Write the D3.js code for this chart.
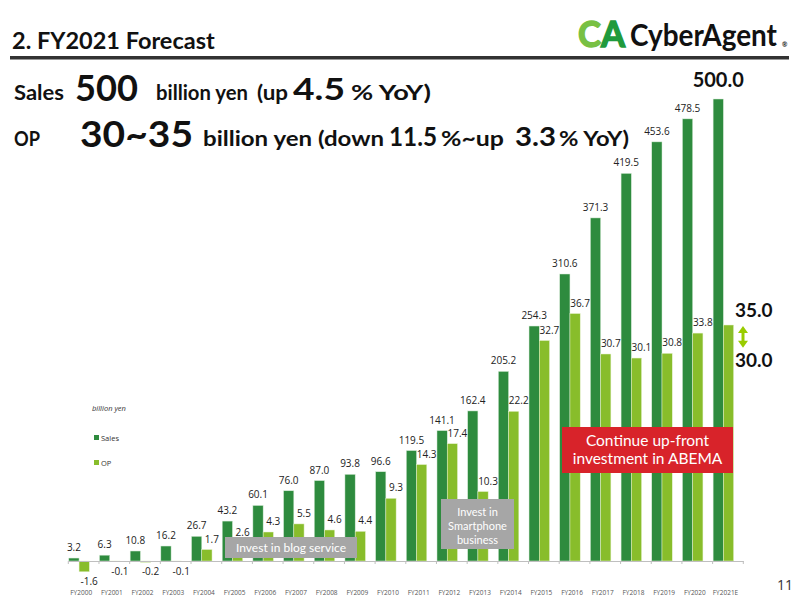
<!DOCTYPE html>
<html>
<head>
<meta charset="utf-8">
<script src="https://cdn.jsdelivr.net/npm/d3@7"></script>
<style>
  html, body { margin: 0; padding: 0; background: #fff; }
  svg { display: block; }
  .head { font-family: Lato, "Open Sans", sans-serif; font-weight: 700; fill: #111; }
  .val { font-family: "Open Sans", "Noto Sans", sans-serif; font-size: 10px; fill: #222; }
  .cat { font-family: "Open Sans", sans-serif; font-size: 6.5px; fill: #555; }
  .note { font-family: Lato, "Open Sans", sans-serif; fill: #fff; }
</style>
</head>
<body>
<div id="chart"></div>
<script>
/* chart values (billion yen) */
var categories = ['FY2000', 'FY2001', 'FY2002', 'FY2003', 'FY2004', 'FY2005', 'FY2006',
  'FY2007', 'FY2008', 'FY2009', 'FY2010', 'FY2011', 'FY2012', 'FY2013', 'FY2014',
  'FY2015', 'FY2016', 'FY2017', 'FY2018', 'FY2019', 'FY2020', 'FY2021E'];
var salesValues = [3.2, 6.3, 10.8, 16.2, 26.7, 43.2, 60.1, 76.0, 87.0, 93.8, 96.6,
  119.5, 141.1, 162.4, 205.2, 254.3, 310.6, 371.3, 419.5, 453.6, 478.5, 500.0];
var opValues = [-1.6, -0.1, -0.2, -0.1, 1.7, 2.6, 4.3, 5.5, 4.6, 4.4, 9.3,
  14.3, 17.4, 10.3, 22.2, 32.7, 36.7, 30.7, 30.1, 30.8, 33.8, 35.0];
var seriesNames = ['Sales', 'OP'];
var opForecastRange = [30.0, 35.0];

var W = 800, H = 600;
var colors = { Sales: '#2e8b3e', OP: '#88bd2b' };

var svg = d3.select('#chart').append('svg')
  .attr('width', W).attr('height', H);

/* ── header ── */
svg.append('text').attr('class', 'head')
  .attr('x', 12).attr('y', 49)
  .attr('font-family', '"DejaVu Sans", sans-serif')
  .attr('font-size', 23.5)
  .text('2. FY2021 Forecast');

svg.append('rect')
  .attr('x', 10).attr('y', 56).attr('width', 779).attr('height', 3.5)
  .attr('fill', '#333');

/* logo */
var mark = svg.append('text').attr('class', 'head')
  .attr('x', 578).attr('y', 47).attr('font-size', 37).attr('font-weight', 900)
  .attr('textLength', 47).attr('lengthAdjust', 'spacingAndGlyphs')
  .attr('stroke-width', 1.5);
mark.append('tspan').style('fill', '#78c043').attr('stroke', '#78c043').text('C');
mark.append('tspan').style('fill', '#1f9a3c').attr('stroke', '#1f9a3c').text('A');
svg.append('text').attr('class', 'head')
  .attr('transform', 'translate(630,46) scale(0.9,1)')
  .attr('font-size', 31).attr('font-weight', 900)
  .text('CyberAgent');
svg.append('text').attr('class', 'head')
  .attr('x', 782).attr('y', 47).attr('font-size', 6.5)
  .text('®');

/* forecast lines, one text per piece so widths follow the reference */
function seg(str, x, y, w, size, weight) {
  svg.append('text').attr('class', 'head')
    .attr('x', x).attr('y', y)
    .attr('font-size', size).attr('font-weight', weight)
    .attr('textLength', w).attr('lengthAdjust', 'spacingAndGlyphs')
    .text(str);
}
seg('Sales', 14, 100, 50, 21, 700);
seg('500', 75, 101, 63, 37, 900);
seg('billion yen', 156, 100, 92, 20, 700);
seg('(up', 257, 100, 31, 20, 700);
seg('4.5', 293, 100, 52, 31, 900);
seg('% YoY)', 351, 100, 80, 21, 700);

seg('OP', 14, 146, 26, 21, 700);
seg('30~35', 80, 147, 113, 37, 900);
seg('billion yen (down', 203, 146, 181, 20, 700);
seg('11.5', 389, 146, 48, 26, 900);
seg('%~up', 441, 146, 63, 20, 700);
seg('3.3', 515, 146, 41, 27, 900);
seg('% YoY)', 559, 146, 70, 20, 700);

/* ── scales ── */
var baseY = 561;
var x0 = d3.scaleBand().domain(categories).range([68.3, 743.3]).padding(0);
var x1 = d3.scaleBand().domain(seriesNames).range([0.5, 21]);
var ySales = d3.scaleLinear().domain([0, 500]).range([baseY, 99]);
var yOP = d3.scaleLinear().domain([0, 35]).range([baseY, 325]);

var data = categories.map(function (c, i) {
  return { cat: c, Sales: salesValues[i], OP: opValues[i] };
});

var chart = svg.append('g');

/* sales bars */
chart.selectAll('rect.sales')
  .data(data).join('rect')
  .attr('class', 'sales')
  .attr('x', function (d) { return x0(d.cat) + x1('Sales'); })
  .attr('width', x1.bandwidth())
  .attr('y', function (d) { return ySales(d.Sales); })
  .attr('height', function (d) { return baseY - ySales(d.Sales); })
  .attr('fill', colors.Sales)
  .attr('stroke', '#d8ecd8').attr('stroke-width', 0.5);

/* OP bars (secondary scale) */
chart.selectAll('rect.op')
  .data(data).join('rect')
  .attr('class', 'op')
  .attr('x', function (d) { return x0(d.cat) + x1('OP'); })
  .attr('width', x1.bandwidth())
  .attr('y', function (d) { return Math.min(yOP(d.OP), yOP(0)); })
  .attr('height', function (d) { return Math.abs(yOP(d.OP) - yOP(0)); })
  .attr('fill', colors.OP)
  .attr('stroke', '#e6f2d0').attr('stroke-width', 0.5);

/* axis */
var axis = d3.axisBottom(x0).tickSize(0).tickFormat('');
chart.append('g').attr('transform', 'translate(0,' + baseY + ')').call(axis)
  .call(function (g) { g.select('.domain').attr('stroke', '#bfbfbf').attr('stroke-width', 1.2); });
chart.selectAll('line.tk')
  .data(categories.concat(['end'])).join('line')
  .attr('class', 'tk')
  .attr('x1', function (d) { return d === 'end' ? x0.range()[1] : x0(d); })
  .attr('x2', function (d) { return d === 'end' ? x0.range()[1] : x0(d); })
  .attr('y1', baseY).attr('y2', baseY + 3)
  .attr('stroke', '#bfbfbf');

chart.selectAll('text.cat')
  .data(categories).join('text')
  .attr('class', 'cat')
  .attr('x', function (d) { return x0(d) + x0.bandwidth() * 0.42; })
  .attr('y', 595)
  .attr('text-anchor', 'middle')
  .text(function (d) { return d; });

/* value labels */
var last = categories[categories.length - 1];
chart.selectAll('text.sv')
  .data(data.filter(function (d) { return d.cat !== last; })).join('text')
  .attr('class', 'val sv')
  .attr('x', function (d) { return x0(d.cat) + x1('Sales') + x1.bandwidth() / 2; })
  .attr('y', function (d) { return ySales(d.Sales) - 7; })
  .attr('text-anchor', 'middle')
  .text(function (d) { return d.Sales.toFixed(1); });

chart.selectAll('text.ov')
  .data(data.filter(function (d) { return d.cat !== last; })).join('text')
  .attr('class', 'val ov')
  .attr('x', function (d) { return x0(d.cat) + x1('OP') + x1.bandwidth() / 2 + 5; })
  .attr('y', function (d) { return d.OP < 0 ? yOP(d.OP) + 13 : yOP(d.OP) - 7; })
  .attr('text-anchor', 'middle')
  .text(function (d) { return d.OP.toFixed(1); });

/* FY2021E forecast labels */
var lastD = data[data.length - 1];
chart.append('text').attr('class', 'head')
  .attr('x', x0(last) + x1('Sales') + x1.bandwidth() / 2)
  .attr('y', ySales(lastD.Sales) - 12)
  .attr('text-anchor', 'middle').attr('font-size', 20)
  .text(lastD.Sales.toFixed(1));

chart.selectAll('text.rng')
  .data(opForecastRange).join('text')
  .attr('class', 'head rng')
  .attr('x', 735)
  .attr('y', function (d, i) { return i === 1 ? yOP(d) - 8 : yOP(d) + 8; })
  .attr('font-size', 19)
  .text(function (d) { return d.toFixed(1); });

var ax = 743, aTop = yOP(opForecastRange[1]) + 1, aBot = yOP(opForecastRange[0]) - 11;
chart.append('line').attr('x1', ax).attr('x2', ax)
  .attr('y1', aTop + 6).attr('y2', aBot - 6)
  .attr('stroke', '#99cc00').attr('stroke-width', 3);
chart.append('path')
  .attr('d', 'M' + (ax - 5) + ',' + (aTop + 7) + 'L' + ax + ',' + aTop + 'L' + (ax + 5) + ',' + (aTop + 7) + 'Z'
    + 'M' + (ax - 5) + ',' + (aBot - 7) + 'L' + ax + ',' + aBot + 'L' + (ax + 5) + ',' + (aBot - 7) + 'Z')
  .attr('fill', '#99cc00');

/* legend */
var legend = svg.append('g').attr('font-family', '"Open Sans", sans-serif').attr('fill', '#333');
legend.append('text').attr('x', 92).attr('y', 411).attr('font-size', 7.5)
  .attr('font-style', 'italic').text('billion yen');
seriesNames.forEach(function (s, i) {
  legend.append('rect').attr('x', 94).attr('y', 435 + i * 25).attr('width', 5).attr('height', 5)
    .attr('fill', colors[s]);
  legend.append('text').attr('x', 101).attr('y', 441 + i * 25).attr('font-size', 7.5).text(s);
});

/* annotation boxes */
svg.append('rect').attr('x', 225).attr('y', 537).attr('width', 132).attr('height', 21).attr('fill', '#a6a6a6');
svg.append('text').attr('class', 'note').attr('x', 291).attr('y', 552)
  .attr('text-anchor', 'middle').attr('font-size', 12).text('Invest in blog service');

svg.append('rect').attr('x', 441).attr('y', 499).attr('width', 73).attr('height', 50).attr('fill', '#a6a6a6');
['Invest in', 'Smartphone', 'business'].forEach(function (t, i) {
  svg.append('text').attr('class', 'note').attr('x', 477.5).attr('y', 516 + i * 14)
    .attr('text-anchor', 'middle').attr('font-size', 11).text(t);
});

svg.append('rect').attr('x', 562).attr('y', 427).attr('width', 171).attr('height', 46).attr('fill', '#d8232a');
['Continue up-front', 'investment in ABEMA'].forEach(function (t, i) {
  svg.append('text').attr('class', 'note').attr('x', 647.5).attr('y', 446 + i * 18)
    .attr('text-anchor', 'middle').attr('font-size', 15.5).text(t);
});

/* page number */
svg.append('text').attr('x', 777).attr('y', 590)
  .attr('font-family', '"Open Sans", sans-serif').attr('font-size', 14).attr('fill', '#333')
  .text('11');
</script>
</body>
</html>
